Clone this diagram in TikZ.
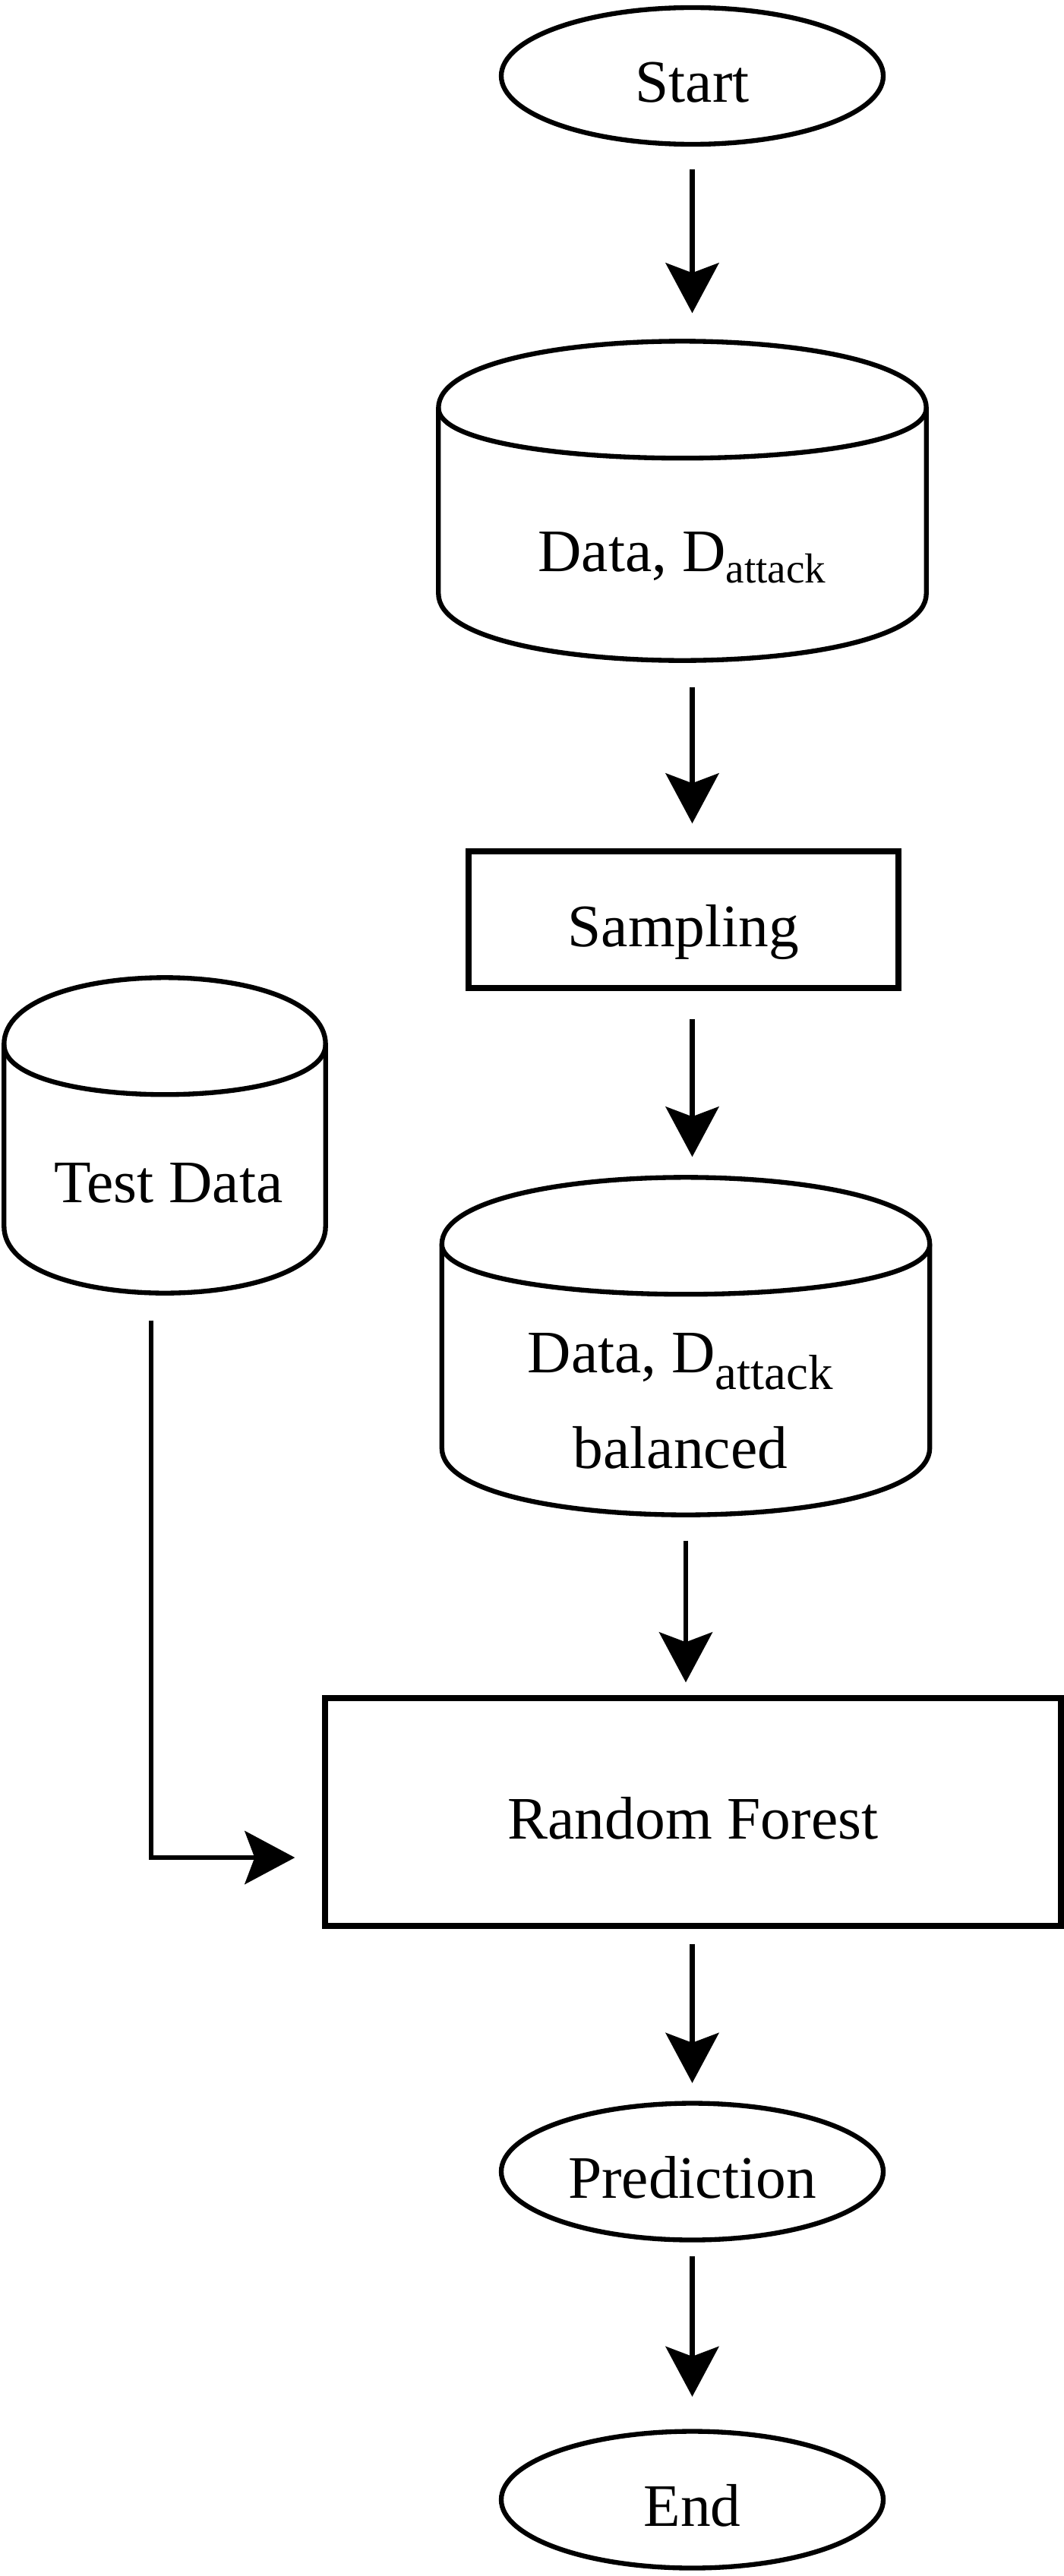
\documentclass[tikz,border=0pt]{standalone}
\usepackage{fontspec}
\setmainfont{Liberation Serif}
\usetikzlibrary{arrows.meta,shapes.geometric}

\tikzset{
  every node/.style={font=\fontsize{22.6}{35.6}\selectfont},
  term/.style={draw, ellipse, line width=1.8pt, minimum width=5.03cm, minimum height=1.80cm, inner sep=0pt, text height=0.7cm, text depth=0cm},
  proc/.style={draw, rectangle, line width=2.1pt, inner sep=0pt, text height=0.7cm, text depth=0cm},
  cylbox/.style={minimum width=6.41cm, inner sep=0pt},
  cyltxt/.style={anchor=base, align=center},
  cyl/.style={line width=1.8pt},
  arr/.style={-{Stealth[length=0.66cm,width=0.70cm,inset=0.13cm]}, line width=1.8pt},
}
\newcommand{\subatt}[2]{\raisebox{-#1}{\fontsize{#2}{#2}\selectfont attack}}
\def\cy{0.88}

\begin{document}
\begin{tikzpicture}
  \useasboundingbox (0,0) rectangle (14,-33.92);

  % main column
  \node[term] (start) at (9.115,-1.00) {Start};
  \node[cylbox, minimum height=4.19cm] (data) at (8.985,-6.595) {};
  \node[proc, minimum width=5.66cm, minimum height=1.80cm] (samp) at (9.00,-12.11) {Sampling};
  \node[cylbox, minimum height=4.43cm] (bal) at (9.03,-17.725) {};
  \node[cylbox, minimum width=4.22cm, minimum height=4.14cm] (test) at (2.17,-14.95) {};
  \node[proc, minimum width=9.69cm, minimum height=3.00cm] (rf) at (9.125,-23.86) {Random Forest};
  \node[term] (pred) at (9.115,-28.595) {Prediction};
  \node[term] (stop) at (9.115,-32.915) {End};

  % cylinders
  \foreach \n in {data,bal,test} {
    \draw[cyl] ([yshift=-\cy cm]\n.north west) .. controls +(0,{4/3*\cy}) and +(0,{4/3*\cy}) .. ([yshift=-\cy cm]\n.north east)
      -- ([yshift=\cy cm]\n.south east) .. controls +(0,{-4/3*\cy}) and +(0,{-4/3*\cy}) .. ([yshift=\cy cm]\n.south west) -- cycle;
    \draw[cyl] ([yshift=-\cy cm]\n.north west) .. controls +(0,-\cy) and +(0,-\cy) .. ([yshift=-\cy cm]\n.north east);
  }
  \node[cyltxt] (datatxt) at (8.98,-7.52) {Data, D\subatt{0.15cm}{15.7}};
  \node[cyltxt] (baltxt) at (8.96,-19.33) {Data, D\subatt{0.22cm}{18.5}\\balanced};
  \node[cyltxt] (testtxt) at (2.22,-15.83) {Test Data};

  % arrows
  \draw[arr, shorten <=0.30cm, shorten >=0.37cm] (start.south) -- (data.north -| start);
  \draw[arr, shorten <=0.35cm, shorten >=0.33cm] (data.south -| start) -- (samp.north -| start);
  \draw[arr, shorten <=0.37cm, shorten >=0.27cm] (samp.south -| start) -- (bal.north -| start);
  \draw[arr, shorten <=0.34cm, shorten >=0.17cm] (bal.south) -- (rf.north -| bal);
  \draw[arr, shorten <=0.20cm, shorten >=0.235cm] (rf.south -| start) -- (pred.north);
  \draw[arr, shorten <=0.185cm, shorten >=0.425cm] (pred.south) -- (stop.north);
  \draw[arr, shorten <=0.36cm, shorten >=0.36cm] ([xshift=-0.18cm]test.south) |- ([yshift=-0.60cm]rf.west);
\end{tikzpicture}
\end{document}
